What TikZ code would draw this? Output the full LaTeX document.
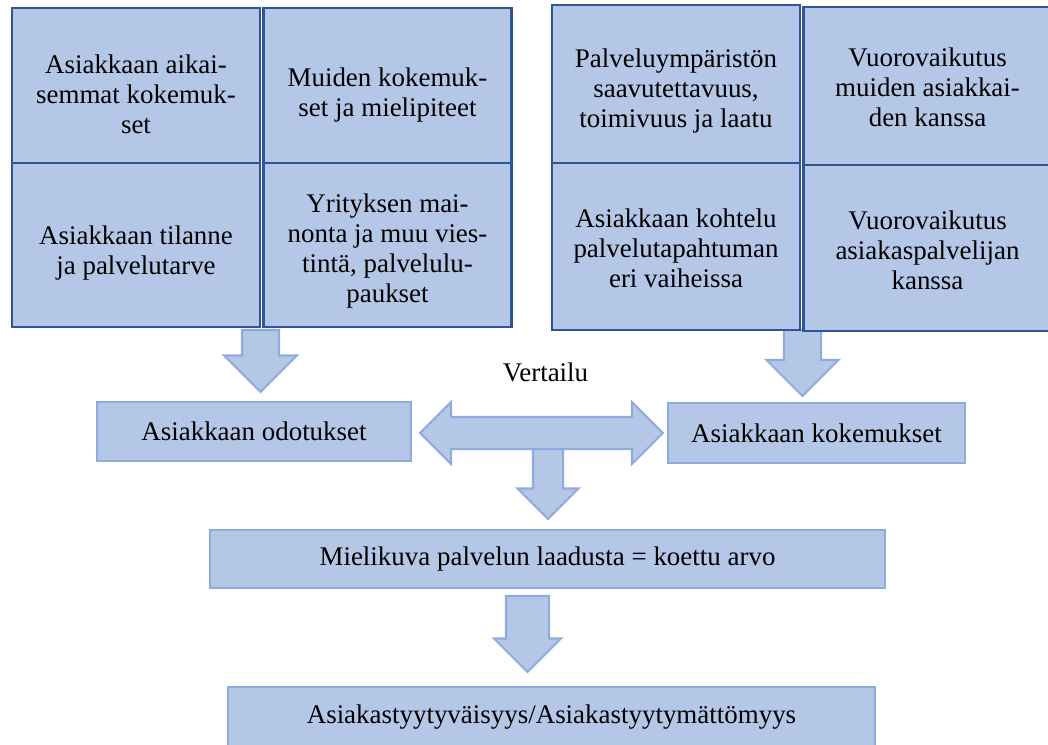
\documentclass[tikz,border=0pt]{standalone}
\usepackage{fontspec}
\setmainfont{Liberation Serif}
\usetikzlibrary{shapes.arrows}

\definecolor{boxfill}{HTML}{B4C7E7}
\definecolor{boxline}{HTML}{2F5597}
\definecolor{arrline}{HTML}{8FAADC}

\newcommand{\pxu}{0.49pt}
\newcommand{\boxfont}{\rmfamily\fontsize{13.2}{14.7}\selectfont}

\tikzset{
    topbox/.style={rectangle, draw=boxline, fill=boxfill, line width=1pt, inner sep=0pt, minimum width=248*\pxu},
    toptext/.style={align=center, inner sep=0pt, font=\boxfont},
    lowbox/.style={rectangle, draw=arrline, fill=boxfill, line width=1pt, inner sep=0pt, font=\boxfont},
    downarr/.style={single arrow, draw=arrline, fill=boxfill, line width=1pt, rotate=-90, anchor=tail,
        inner xsep=0pt, outer sep=0pt, single arrow tip angle=90},
}

\begin{document}
\begin{tikzpicture}[x=\pxu, y=-\pxu]
    \clip (0,0) rectangle (1048,745);

    % arrows
    \node[downarr, minimum height=62*\pxu, minimum width=71*\pxu, inner ysep=17.5*\pxu,
        single arrow head extend=18*\pxu] (a1) at (260.5,330) {};
    \node[downarr, minimum height=66*\pxu, minimum width=70*\pxu, inner ysep=17.5*\pxu,
        single arrow head extend=17.5*\pxu] (a2) at (802.5,330) {};
    \node[downarr, minimum height=70*\pxu, minimum width=59*\pxu, inner ysep=14*\pxu,
        single arrow head extend=15.5*\pxu] (a3) at (548,449) {};
    \node[downarr, minimum height=76*\pxu, minimum width=65*\pxu, inner ysep=20.5*\pxu,
        single arrow head extend=12*\pxu] (a4) at (527.5,596) {};
    \node[double arrow, draw=arrline, fill=boxfill, line width=1pt, inner xsep=0pt, inner ysep=15*\pxu,
        minimum height=243*\pxu, minimum width=60*\pxu, double arrow head extend=15*\pxu,
        double arrow tip angle=90] (cmp) at (541.5,433) {};

    % left block
    \node[topbox, minimum height=155*\pxu] (b1) at (136,85.5) {};
    \node[topbox, minimum height=155*\pxu] (b2) at (387.5,85.5) {};
    \node[topbox, minimum height=164*\pxu] (b3) at (136,245) {};
    \node[topbox, minimum height=164*\pxu] (b4) at (387.5,245) {};
    \node[toptext] (b1t) at ([yshift=-4.2pt]b1) {Asiakkaan aikai-\\semmat kokemuk-\\set};
    \node[toptext] (b2t) at ([yshift=-4.5pt]b2) {Muiden kokemuk-\\set ja mielipiteet};
    \node[toptext] (b3t) at ([yshift=-3.8pt]b3) {Asiakkaan tilanne\\ja palvelutarve};
    \node[toptext] (b4t) at ([yshift=-3pt]b4) {Yrityksen mai-\\nonta ja muu vies-\\tint\"a, palvelulu-\\paukset};

    % right block
    \node[topbox, minimum height=158*\pxu] (r1) at (676,84) {};
    \node[topbox, minimum height=158*\pxu] (r2) at (927.5,86) {};
    \node[topbox, minimum height=167*\pxu] (r3) at (676,246.5) {};
    \node[topbox, minimum height=166*\pxu] (r4) at (927.5,248) {};
    \node[toptext] (r1t) at ([yshift=-3.4pt]r1) {Palveluymp\"arist\"on\\saavutettavuus,\\toimivuus ja laatu};
    \node[toptext] (r2t) at ([yshift=-0.6pt]r2) {Vuorovaikutus\\muiden asiakkai-\\den kanssa};
    \node[toptext] (r3t) at ([yshift=-1pt]r3) {Asiakkaan kohtelu\\palvelutapahtuman\\eri vaiheissa};
    \node[toptext] (r4t) at ([yshift=-1pt]r4) {Vuorovaikutus\\asiakaspalvelijan\\kanssa};

    % lower boxes
    \begin{scope}[every node/.style={lowbox}]
        \node[minimum width=314*\pxu, minimum height=59*\pxu] (odot) at (254,431.5) {Asiakkaan odotukset};
        \node[minimum width=297*\pxu, minimum height=60*\pxu] (koke) at (816.5,433) {Asiakkaan kokemukset};
        \node[minimum width=675*\pxu, minimum height=58*\pxu] (mieli) at (547.5,559) {Mielikuva palvelun laadusta = koettu arvo};
        \node[minimum width=647*\pxu, minimum height=60*\pxu] (tyyt) at (551.5,717) {Asiakastyytyv\"aisyys/Asiakastyytym\"att\"omyys};
    \end{scope}

    \node[font=\boxfont] (vert) at (545.5,372) {Vertailu};
\end{tikzpicture}
\end{document}
